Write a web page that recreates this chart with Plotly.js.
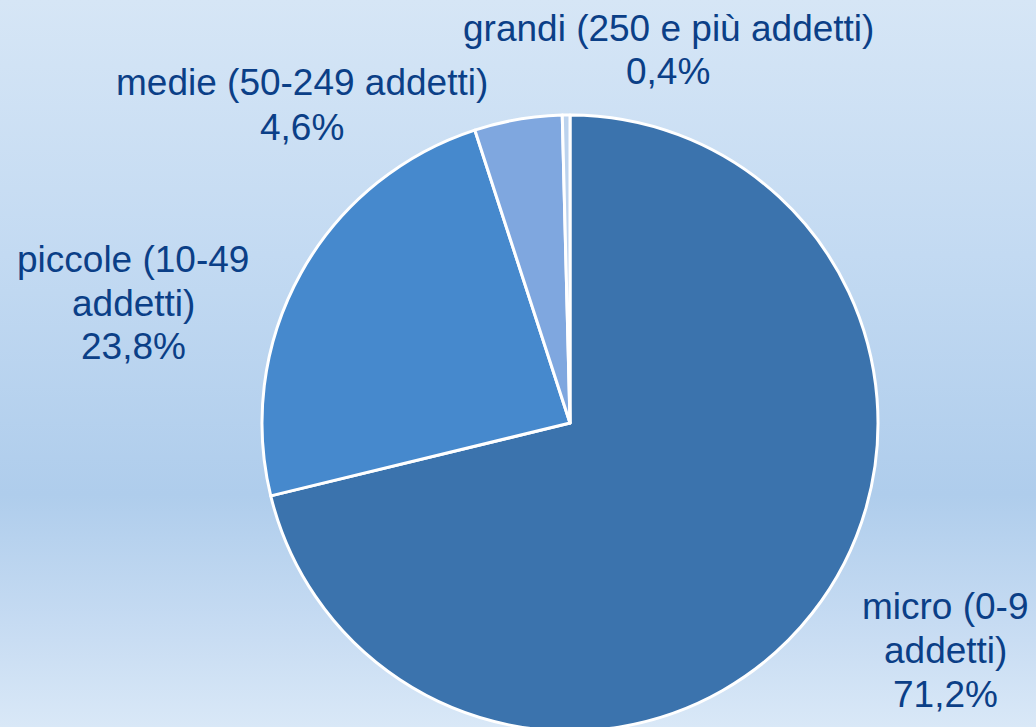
<!DOCTYPE html>
<html>
<head>
<meta charset="utf-8">
<script src="https://cdn.plot.ly/plotly-3.0.1.min.js"></script>
<style>
  html, body { margin: 0; padding: 0; overflow: hidden; }
  body {
    width: 1036px;
    height: 727px;
    background: linear-gradient(to bottom, #d6e6f6 0%, #c3daf2 35%, #afcdec 68%, #c9ddf3 88%, #d9e8f7 100%);
  }
  #chart { width: 1036px; height: 760px; }
</style>
</head>
<body>
<div id="chart"></div>
<script>
var categories = ["micro (0-9 addetti)", "piccole (10-49 addetti)", "medie (50-249 addetti)", "grandi (250 e più addetti)"];
var labelLines = ["micro (0-9<br>addetti)", "piccole (10-49<br>addetti)", "medie (50-249 addetti)", "grandi (250 e più addetti)"];
var shares = [71.2, 23.8, 4.6, 0.4];
var sliceColors = ["#3b73ad", "#4689cd", "#7fa7df", "#bcd3ee"];

var TEXT_COLOR = "#0b3f87";
var FONT = "Liberation Sans, Arial, sans-serif";
var FONT_SIZE = 37;
var LINE_GAP = 44;
var H = 760;

// where each label block sits, in pixels (x centre, y centre of block)
var labelPos = [
  { x: 945, y: 650 },
  { x: 133, y: 303 },
  { x: 302, y: 105 },
  { x: 668, y: 50 }
];

var fmtPct = function(v) {
  return v.toFixed(1).replace(".", ",") + "%";
};

var data = [
  {
    type: "pie",
    labels: categories,
    values: shares,
    sort: false,
    direction: "clockwise",
    rotation: 0,
    textinfo: "none",
    hoverinfo: "label+percent",
    marker: { colors: sliceColors, line: { color: "#ffffff", width: 3 } },
    domain: { x: [262 / 1036, 878 / 1036], y: [1 - 731 / H, 1 - 115 / H] }
  }
];

// one annotation per text line so the line spacing can be set
var annotations = [];
categories.forEach(function(name, i) {
  var lines = labelLines[i].split("<br>").concat([fmtPct(shares[i])]);
  var n = lines.length;
  lines.forEach(function(line, j) {
    var py = labelPos[i].y + (j - (n - 1) / 2) * LINE_GAP;
    annotations.push({
      xref: "paper",
      yref: "paper",
      x: labelPos[i].x / 1036,
      y: 1 - py / H,
      xanchor: "center",
      yanchor: "middle",
      showarrow: false,
      text: line,
      font: { family: FONT, size: FONT_SIZE, color: TEXT_COLOR }
    });
  });
});

var layout = {
  width: 1036,
  height: H,
  margin: { l: 0, r: 0, t: 0, b: 0 },
  paper_bgcolor: "rgba(0,0,0,0)",
  plot_bgcolor: "rgba(0,0,0,0)",
  showlegend: false,
  annotations: annotations
};

Plotly.newPlot("chart", data, layout, { displayModeBar: false, staticPlot: true });
</script>
</body>
</html>
